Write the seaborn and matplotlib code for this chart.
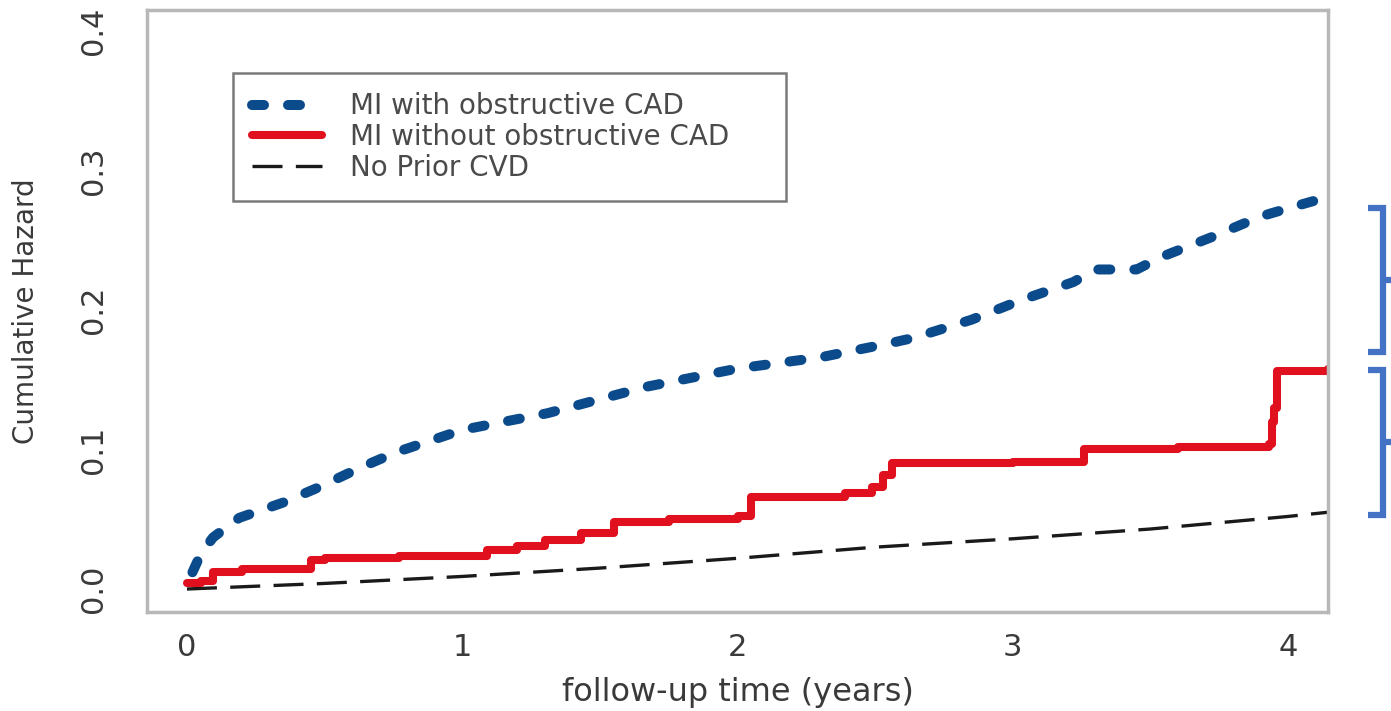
import numpy as np
import pandas as pd
import seaborn as sns
import matplotlib.pyplot as plt
from matplotlib.lines import Line2D
import matplotlib.transforms as mtransforms

# 数据：累积风险曲线
blue_x = [0.02, 0.05, 0.095, 0.19, 0.35, 0.48, 0.63, 0.76, 1.0, 1.31, 1.67, 2.0, 2.30,
          2.55, 2.64, 2.85, 3.03, 3.22, 3.30, 3.45, 3.54, 3.72, 3.90, 4.02, 4.145]
blue_y = [0.012, 0.025, 0.037, 0.051, 0.062, 0.073, 0.087, 0.098, 0.114, 0.126, 0.145, 0.158, 0.166,
          0.176, 0.180, 0.193, 0.207, 0.220, 0.229, 0.229, 0.238, 0.252, 0.267, 0.274, 0.281]

red_x = [0, 0.05, 0.095, 0.20, 0.45, 0.50, 0.77, 1.09, 1.2, 1.3, 1.43, 1.55, 1.75, 2.0, 2.05,
         2.39, 2.49, 2.53, 2.56, 3.0, 3.26, 3.6, 3.93, 3.94, 3.95, 3.96, 4.145]
red_y = [0.004, 0.006, 0.012, 0.014, 0.021, 0.022, 0.024, 0.028, 0.031, 0.035, 0.040, 0.048, 0.050, 0.052, 0.066,
         0.069, 0.073, 0.082, 0.090, 0.091, 0.100, 0.102, 0.104, 0.120, 0.130, 0.156, 0.158]

black_x = [0, 0.5, 1, 1.5, 2, 2.5, 3, 3.5, 4, 4.145]
black_y = [0, 0.004, 0.009, 0.015, 0.022, 0.030, 0.036, 0.043, 0.052, 0.055]

labels = ['MI with obstructive CAD', 'MI without obstructive CAD', 'No Prior CVD']
x_ticks = [0, 1, 2, 3, 4]
y_ticks = [0.0, 0.1, 0.2, 0.3, 0.4]

# 右侧蓝色括号的纵向范围（数据坐标）
brackets = [(0.170, 0.273), (0.053, 0.157)]

sns.set_style('white')
plt.rcParams['font.family'] = ['DejaVu Sans']

txt = '#3a3a3a'
grey = '#b8b8b8'

fig = plt.figure(figsize=(13.91, 7.11), dpi=100)
ax = fig.add_axes([0.1057, 0.1392, 0.849, 0.8468])

df_blue = pd.DataFrame({'x': blue_x, 'y': blue_y})
df_red = pd.DataFrame({'x': red_x, 'y': red_y})
df_black = pd.DataFrame({'x': black_x, 'y': black_y})

sns.lineplot(data=df_black, x='x', y='y', ax=ax, color='#1a1a1a', lw=2.4,
             sort=False, estimator=None, label=labels[2])
sns.lineplot(data=df_red, x='x', y='y', ax=ax, color='#e0101e', lw=5.8,
             drawstyle='steps-post', sort=False, estimator=None, label=labels[1])
sns.lineplot(data=df_blue, x='x', y='y', ax=ax, color='#0b4a8b', lw=7.2,
             sort=False, estimator=None, label=labels[0])

lines = ax.get_lines()
lines[0].set_dashes([9, 4])
lines[2].set_dashes([1.2, 2.4])
lines[2].set_dash_capstyle('round')

ax.set_xlim(-0.145, 4.145)
ax.set_ylim(-0.0165, 0.415)
ax.set_xticks(x_ticks)
ax.set_xticklabels([str(t) for t in x_ticks])
ax.set_yticks(y_ticks)
ax.set_yticklabels([f'{t:.1f}' for t in y_ticks], rotation=90, va='center')

ax.tick_params(axis='both', direction='out', length=9, width=1.5, color=grey,
               labelsize=22, labelcolor=txt, pad=6)
ax.tick_params(axis='y', pad=19)
for s in ax.spines.values():
    s.set_visible(True)
    s.set_color(grey)
    s.set_linewidth(2.5)

ax.set_xlabel('follow-up time (years)', fontsize=23, color=txt, labelpad=11)
ax.set_ylabel('Cumulative Hazard', fontsize=20, color=txt, labelpad=28)

handles, labs = ax.get_legend_handles_labels()
order = [labs.index(l) for l in labels]
leg = ax.legend([handles[i] for i in order], [labs[i] for i in order],
                loc='upper left', bbox_to_anchor=(0.0728, 0.5, 0.468, 0.3953), mode='expand',
                fontsize=20, frameon=True, fancybox=False, edgecolor='#7a7a7a', framealpha=1,
                handlelength=2.5, handletextpad=1.0, borderpad=0.7, labelspacing=0.1,
                borderaxespad=0)
leg.get_frame().set_linewidth(1.8)
for t in leg.get_texts():
    t.set_color('#4a4a4a')

# 蓝色括号（x 为图坐标，y 为数据坐标）
trans = mtransforms.blended_transform_factory(fig.transFigure, ax.transData)
x0, x1, x2 = 0.9835, 0.9945, 1.0
for lo, hi in brackets:
    mid = (lo + hi) / 2
    kw = dict(transform=trans, color='#4472c4', lw=4.5, solid_capstyle='butt',
              solid_joinstyle='miter', clip_on=False)
    fig.add_artist(Line2D([x0, x1, x1, x0], [hi, hi, lo, lo], **kw))
    fig.add_artist(Line2D([x1, x2], [mid, mid], **kw))

fig.savefig('out.png', dpi=100)
